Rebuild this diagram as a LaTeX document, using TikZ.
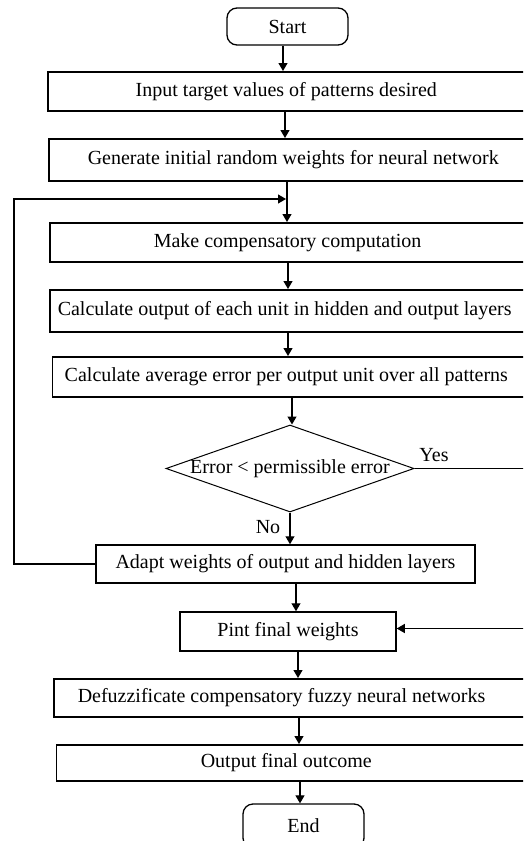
\documentclass[tikz,border=0pt]{standalone}
\usepackage{fontspec}
\setmainfont{Liberation Serif}
\usetikzlibrary{shapes.geometric,arrows.meta}
\begin{document}
\begin{tikzpicture}[x=1pt,y=-1pt,
  font=\fontsize{20}{24}\selectfont,
  every node/.style={inner sep=0pt},
  proc/.style={draw, line width=1.5pt, rectangle, fill=white},
  wide/.style 2 args={proc, anchor=north west, text width=520pt,
    minimum height=#1, align=flush left, execute at begin node={\hspace*{#2}}},
  term/.style={draw, line width=1.3pt, rounded corners=10pt,
    minimum width=121pt, minimum height=37pt},
  decision/.style={diamond, draw, line width=1pt, shape aspect=2.85,
    inner xsep=-20pt, minimum width=248pt, minimum height=87pt},
  conn/.style={line width=1.2pt},
  arr/.style={conn, -{Triangle[length=8pt,width=9pt]}}]

\useasboundingbox (0,0) rectangle (523,841);
\clip (0,0) rectangle (523,841);

% process steps
\node[term] (start) at (287.5,26.5) {Start};
\node[wide={39pt}{88pt}] (b1) at (47,71) {Input target values of patterns desired};
\node[wide={42pt}{39pt}] (b2) at (48,138) {Generate initial random weights for neural network};
\node[wide={39pt}{104pt}] (b3) at (49,222) {Make compensatory computation};
\node[wide={42pt}{8pt}] (b4) at (49,289) {Calculate output of each unit in hidden and output layers};
\node[wide={40pt}{12.5pt}] (b5) at (51.5,356) {Calculate average error per output unit over all patterns};
\node[decision] (dec) at (290,468.5) {Error < permissible error};
\node[proc, minimum width=379pt, minimum height=38pt] (adapt) at (285.5,564) {Adapt weights of output and hidden layers};
\node[proc, minimum width=216pt, minimum height=39pt] (pint) at (288,631.5) {Pint final weights};
\node[wide={38pt}{24pt}] (b8) at (53,678) {Defuzzificate compensatory fuzzy neural networks};
\node[wide={36pt}{144.5pt}] (b9) at (55.5,744) {Output final outcome};
\node[term, minimum height=44pt] (end) at (303.5,826) {End};

% branch labels
\node (yes) at (434,455) {Yes};
\node (no) at (268,527) {No};

% columns of the vertical connectors
\coordinate (c1) at (283,0);
\coordinate (c2) at (285,0);
\coordinate (c3) at (287,0);
\coordinate (c4) at (288,0);
\coordinate (c6) at (292,0);
\coordinate (c8) at (296,0);
\coordinate (c9) at (298,0);
\coordinate (c10) at (299,0);
\coordinate (c11) at (300,0);
\coordinate (corner) at (14,199);
\coordinate (join) at (286,199);
\coordinate (rail) at (560,0);

% main flow
\draw[arr] (start.south -| c1) -- (b1.north -| c1);
\draw[arr] (b1.south -| c2) -- (b2.north -| c2);
\draw[arr] (b2.south -| c3) -- (b3.north -| c3);
\draw[arr] (b3.south -| c4) -- (b4.north -| c4);
\draw[arr] (b4.south -| c4) -- (b5.north -| c4);
\draw[arr] (b5.south -| c6) -- (dec.north -| c6);
\draw[arr] (dec.south) -- (dec.south |- adapt.north);
\draw[arr] (adapt.south -| c8) -- (pint.north -| c8);
\draw[arr] (pint.south -| c9) -- (b8.north -| c9);
\draw[arr] (b8.south -| c10) -- (b9.north -| c10);
\draw[arr] (b9.south -| c11) -- (end.north -| c11);

% loop back and exit branch
\draw[arr] (adapt.west) -| (corner) -- (join);
\draw[arr] (dec.east) -- (dec.east -| rail) |- ([yshift=3pt]pint.east);
\end{tikzpicture}
\end{document}
